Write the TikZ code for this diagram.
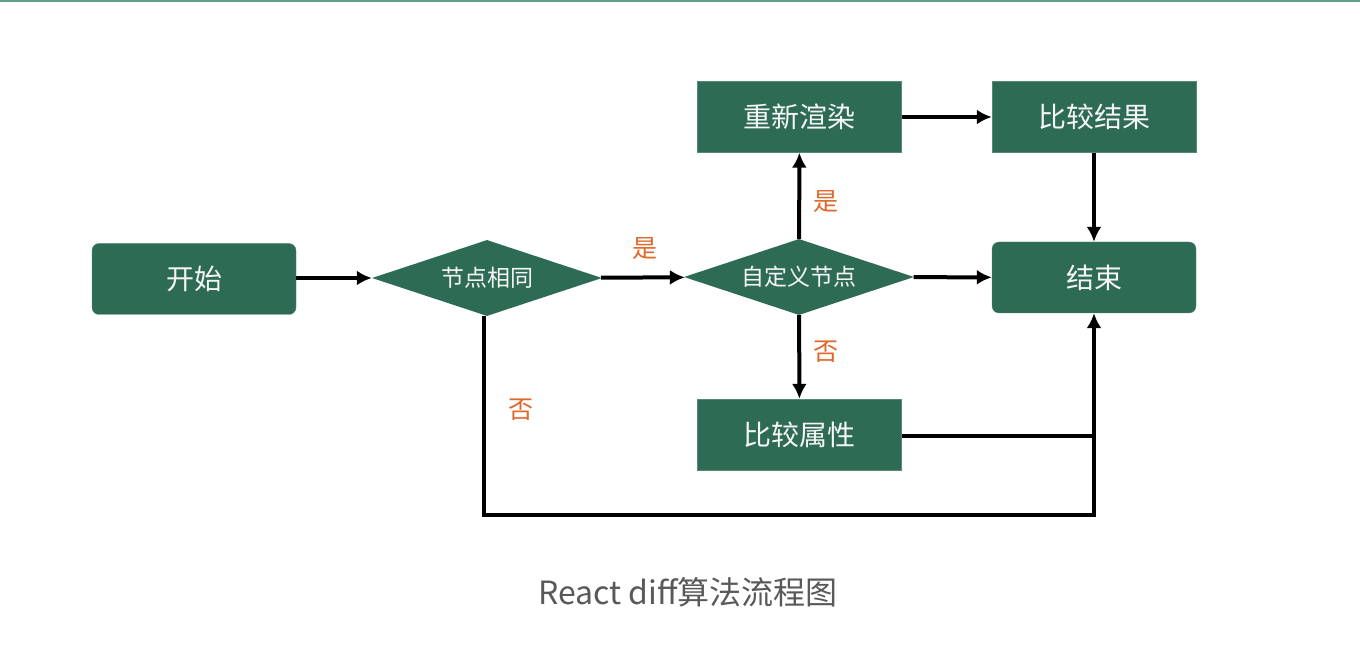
\documentclass[tikz,border=0pt]{standalone}
\usepackage{fontspec}
\setmainfont{Noto Sans CJK SC}
\usetikzlibrary{shapes.geometric,arrows.meta}
\definecolor{boxgreen}{HTML}{2E6B55}
\definecolor{yesno}{HTML}{E0662A}
\definecolor{topteal}{HTML}{5E9E8C}
\tikzset{
  box/.style={draw=boxgreen!80!white,fill=boxgreen,text=white!93!gray,minimum width=204,minimum height=71,inner sep=0,font=\fontsize{28}{30}\selectfont},
  roundbox/.style={box,rounded corners=7},
  decision/.style={diamond,fill=boxgreen,text=white!93!gray,minimum width=230,minimum height=76,aspect=3,inner sep=0,font=\fontsize{23}{25}\selectfont},
  answer/.style={text=yesno,font=\fontsize{25}{27}\selectfont},
  arr/.style={line width=4,-{Latex[length=15,width=15]}},
  link/.style={line width=4}
}
\begin{document}
\begin{tikzpicture}[x=1pt,y=-1pt]
\useasboundingbox (0,0) rectangle (1360,652);
\draw[topteal,line width=3] (0,1) -- (1360,1);
\node[roundbox] (start) at (194,279) {开始};
\node[decision] (same) at (487,278) {节点相同};
\node[decision] (custom) at (799,277) {自定义节点};
\node[box] (render) at (799.5,117) {重新渲染};
\node[box] (result) at (1094,117) {比较结果};
\node[roundbox] (end) at (1094,277.5) {结束};
\node[box] (attr) at (799.5,434.5) {比较属性};
\node[answer] (yes1) at (645,249) {是};
\node[answer] (yes2) at (826,202) {是};
\node[answer] (no1) at (826,352) {否};
\node[answer] (no2) at (521,410) {否};
\node[text=black!65,font=\fontsize{32}{34}\selectfont] (caption) at (688,592) {React diff算法流程图};
\coordinate (bend) at (484,515);
\coordinate (join) at (1094,436);
\draw[arr] (start.east |- 0,278) -- (same);
\draw[arr] (same) -- (custom);
\draw[arr] (custom) -- (end);
\draw[arr] (custom) -- (render);
\draw[arr] (custom) -- (attr);
\draw[arr] (render) -- (result);
\draw[arr] (result) -- (end);
\draw[link] (attr.east |- join) -- (join);
\draw[arr] (same.south -| bend) -- (bend) -| (end.south);
\end{tikzpicture}
\end{document}
